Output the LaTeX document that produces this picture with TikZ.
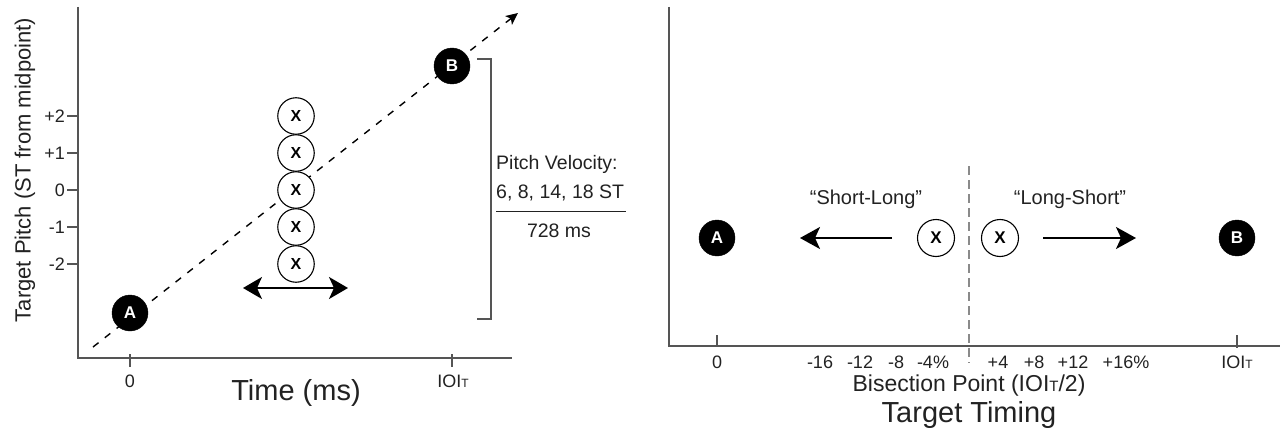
\documentclass[tikz,border=0pt]{standalone}
\usepackage{fontspec}
\setmainfont{Liberation Sans}
\usetikzlibrary{arrows.meta}
\definecolor{ink}{HTML}{222222}
\definecolor{axisgray}{HTML}{555555}
\definecolor{dashgray}{HTML}{8A8A8A}
\newcommand{\fs}[1]{\fontsize{#1}{#1}\selectfont}
\newcommand{\ioit}[1]{IOI{\fs{#1}T}}
\tikzset{
  axisline/.style={draw=axisgray, line width=1.3pt},
  tickline/.style={draw=axisgray, line width=1.1pt},
  ticklab/.style={text=ink, font=\fs{18}, inner sep=0pt},
  blackdot/.style={circle, fill=black, draw=black, minimum size=36pt, inner sep=0pt, text=white, font=\fs{17}\bfseries},
  xcirc/.style={circle, draw=black, line width=1.1pt, fill=white, minimum size=36pt, inner sep=0pt, text=black, font=\fs{16}\bfseries},
  bigarrow/.style={line width=2pt, -{Stealth[length=20pt, width=22pt, inset=5pt]}},
  dblarrow/.style={line width=1.8pt, {Stealth[length=19pt, width=22pt, inset=5pt]}-{Stealth[length=19pt, width=22pt, inset=5pt]}},
  lab/.style={text=ink, inner sep=0pt},
}
\begin{document}
\begin{tikzpicture}[x=1pt, y=-1pt]
\useasboundingbox (0,0) rectangle (1280,436);
\fill[white] (0,0) rectangle (1280,436);

% ---------------- Left panel ----------------
\coordinate (LO) at (78,358);
\coordinate (LYT) at (78,7);
\coordinate (LXE) at (512,358);
\draw[axisline] (LYT) -- (LO) -- (LXE);

% y ticks
\foreach \v/\y/\n in {+2/116/p2, +1/153/p1, 0/190/z0, -1/227/m1, -2/264/m2}{
  \draw[tickline] (67,\y) -- (78,\y);
  \node[ticklab, anchor=east] (yl\n) at (65,\y) {\v};
}
% x ticks
\draw[tickline] (130,354) -- (130,367);
\draw[tickline] (452,354) -- (452,367);
\node[ticklab] (lx0) at (130,381) {0};
\node[ticklab] (lxT) at (453,381) {\ioit{12}};
\node[lab, font=\fs{29}] (ltime) at (296,393) {Time (ms)};
\node[lab, font=\fs{22}, rotate=90] (lylab) at (25,170) {Target Pitch (ST from midpoint)};

% dashed trajectory
\coordinate (dstart) at (93,347);
\coordinate (dend) at (518,13);
\draw[line width=1.4pt, dash pattern=on 7pt off 8pt, -{Stealth[length=12pt, width=11pt, inset=3pt]}] (dstart) -- (dend);

\node[blackdot] (lA) at (130,313) {A};
\node[blackdot] (lB) at (452,66) {B};

\foreach \y/\n in {116/1, 153/2, 190/3, 227/4, 264/5}{
  \node[xcirc, minimum size=36.5pt] (lx\n) at (296,\y) {X};
}

\coordinate (dl) at (243,288);
\coordinate (dr) at (348,288);
\draw[dblarrow] (dl) -- (dr);

% bracket
\coordinate (bt1) at (477,59);
\coordinate (bt2) at (491,59);
\coordinate (bb2) at (491,319);
\coordinate (bb1) at (477,319);
\draw[axisline, line width=1.5pt] (bt1) -- (bt2) -- (bb2) -- (bb1);

\node[lab, font=\fs{19.5}, anchor=west] (pv1) at (496,164) {Pitch Velocity:};
\node[lab, font=\fs{19.5}, anchor=west] (pv2) at (496,193) {6, 8, 14, 18 ST};
\coordinate (fl) at (496,211);
\coordinate (fr) at (626,211);
\draw[draw=ink, line width=1pt] (fl) -- (fr);
\node[lab, font=\fs{19.5}] (pv3) at (559,231) {728 ms};

% ---------------- Right panel ----------------
\coordinate (RO) at (669,346);
\coordinate (RYT) at (669,7);
\coordinate (RXE) at (1280,346);
\draw[axisline] (RYT) -- (RO) -- (RXE);

\draw[tickline] (717,335) -- (717,346);
\draw[tickline] (1237,335) -- (1237,348);
\coordinate (mtop) at (969,166);
\coordinate (mbot) at (969,363);
\draw[draw=dashgray, line width=1.3pt, dash pattern=on 9pt off 5pt] (mtop) -- (mbot);

\node[ticklab] (rx0) at (717,362) {0};
\node[ticklab] (rxT) at (1237,362) {\ioit{12}};
\foreach \t/\x/\n in {-16/820/a, -12/860/b, -8/896/c, -4\%/933/d, +4/998/e, +8/1034/f, +12/1073/g, +16\%/1126/h}{
  \node[ticklab] (rp\n) at (\x,362) {\t};
}
\node[lab, font=\fs{23}] (bis) at (969,386) {Bisection Point (\ioit{15}/2)};
\node[lab, font=\fs{29}] (tt) at (969,415) {Target Timing};

\node[blackdot] (rA) at (717,238) {A};
\node[blackdot] (rB) at (1237,238) {B};
\node[xcirc, minimum size=37pt, font=\fs{17}\bfseries] (rX1) at (936,238) {X};
\node[xcirc, minimum size=37pt, font=\fs{17}\bfseries] (rX2) at (1000,238) {X};

\coordinate (la1) at (892,238);
\coordinate (la2) at (800,238);
\coordinate (ra1) at (1043,238);
\coordinate (ra2) at (1136,238);
\draw[bigarrow] (la1) -- (la2);
\draw[bigarrow] (ra1) -- (ra2);

\node[lab, font=\fs{20}] (sl) at (866,199) {“Short-Long”};
\node[lab, font=\fs{20}] (ls) at (1070,199) {“Long-Short”};
\end{tikzpicture}
\end{document}
